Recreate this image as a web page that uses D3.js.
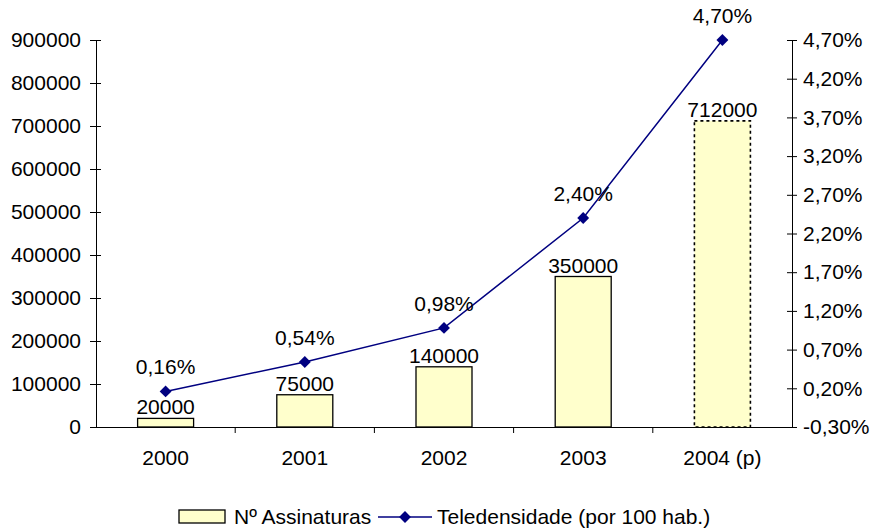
<!DOCTYPE html>
<html lang="pt">
<head>
<meta charset="UTF-8">
<title>Assinaturas e Teledensidade</title>
<style>
    body { margin: 0; background: #fff; }
    svg text { font-family: "Liberation Sans", Arial, sans-serif; font-size: 21px; fill: #000; }
</style>
</head>
<body>
<div id="chart"></div>
<script src="https://cdnjs.cloudflare.com/ajax/libs/d3/7.8.5/d3.min.js"></script>
<script>
    const anos = ["2000", "2001", "2002", "2003", "2004 (p)"];
    const assinaturas = [20000, 75000, 140000, 350000, 712000];
    const teledensidade = [0.16, 0.54, 0.98, 2.40, 4.70];
    const leftTicks = [0, 100000, 200000, 300000, 400000, 500000, 600000, 700000, 800000, 900000];
    const rightTicks = [-0.30, 0.20, 0.70, 1.20, 1.70, 2.20, 2.70, 3.20, 3.70, 4.20, 4.70];

    const width = 874, height = 529;
    const margin = { left: 96, right: 82, top: 40, bottom: 102 };
    const x0 = margin.left, x1 = width - margin.right;
    const y0 = height - margin.bottom, y1 = margin.top;

    const pct = v => v.toFixed(2).replace(".", ",") + "%";

    const svg = d3.select("#chart").append("svg")
        .attr("width", width)
        .attr("height", height);

    const x = d3.scaleBand().domain(anos).range([x0, x1]);
    const yL = d3.scaleLinear().domain([0, 900000]).range([y0, y1]);
    const yR = d3.scaleLinear().domain([-0.30, 4.70]).range([y0, y1]);

    // left axis
    const gL = svg.append("g").attr("transform", `translate(${x0},0)`)
        .call(d3.axisLeft(yL).tickValues(leftTicks).tickFormat(d3.format("d")).tickSize(6).tickPadding(9));
    gL.selectAll(".tick line").attr("x2", -6).attr("x1", 5);

    // right axis
    const gR = svg.append("g").attr("transform", `translate(${x1},0)`)
        .call(d3.axisRight(yR).tickValues(rightTicks).tickFormat(pct).tickSize(5).tickPadding(6));
    gR.selectAll(".tick line").attr("x1", -5);

    // x axis with ticks at category boundaries
    const gX = svg.append("g").attr("transform", `translate(0,${y0})`)
        .call(d3.axisBottom(x).tickSize(0).tickPadding(23));
    gX.selectAll(".tick text").attr("dy", "0.71em");
    svg.append("g").selectAll("line")
        .data(anos.slice(1))
        .join("line")
        .attr("x1", d => x(d)).attr("x2", d => x(d))
        .attr("y1", y0).attr("y2", y0 + 6)
        .attr("stroke", "#000");

    [gL, gR, gX].forEach(g => {
        g.select(".domain").attr("stroke", "#000").attr("stroke-width", 1);
        g.selectAll(".tick line").attr("stroke", "#000");
        g.selectAll(".tick text").style("font-size", "21px").attr("fill", "#000");
        g.attr("font-family", null).attr("font-size", null);
    });
    gL.select(".domain").attr("d", `M0.5,${y1}V${y0}`);
    gR.select(".domain").attr("d", `M0.5,${y1}V${y0}`);
    gX.select(".domain").attr("d", `M${x0},0.5H${x1}`);

    // bars
    const bw = 56;
    svg.append("g").selectAll("rect")
        .data(assinaturas)
        .join("rect")
        .attr("x", (d, i) => x(anos[i]) + x.bandwidth() / 2 - bw / 2)
        .attr("y", d => yL(d))
        .attr("width", bw)
        .attr("height", d => y0 - yL(d))
        .attr("fill", "#FFFFCC")
        .attr("stroke", "#000")
        .attr("stroke-width", (d, i) => i === 4 ? 1.6 : 1.3)
        .attr("stroke-dasharray", (d, i) => i === 4 ? "3,3" : null);

    svg.append("g").selectAll("text")
        .data(assinaturas)
        .join("text")
        .attr("x", (d, i) => x(anos[i]) + x.bandwidth() / 2)
        .attr("y", d => yL(d) - 4)
        .attr("text-anchor", "middle")
        .text(d => d);

    // teledensidade line
    const cx = (d, i) => x(anos[i]) + x.bandwidth() / 2;
    svg.append("path")
        .datum(teledensidade)
        .attr("d", d3.line().x(cx).y(d => yR(d)))
        .attr("fill", "none")
        .attr("stroke", "#000080")
        .attr("stroke-width", 1.5);

    const diamond = d3.symbol().type(d3.symbolDiamond2).size(90);
    svg.append("g").selectAll("path")
        .data(teledensidade)
        .join("path")
        .attr("transform", (d, i) => `translate(${cx(d, i)},${yR(d)})`)
        .attr("d", diamond)
        .attr("fill", "#000080");

    svg.append("g").selectAll("text")
        .data(teledensidade)
        .join("text")
        .attr("x", cx)
        .attr("y", d => yR(d) - 17)
        .attr("text-anchor", "middle")
        .text(pct);

    // legend
    const lg = svg.append("g").attr("transform", "translate(0,517)");
    lg.append("rect").attr("x", 179).attr("y", -7).attr("width", 46).attr("height", 13)
        .attr("fill", "#FFFFCC").attr("stroke", "#000").attr("stroke-width", 1.3);
    lg.append("text").attr("x", 234).attr("y", 7).text("Nº Assinaturas");
    lg.append("line").attr("x1", 378).attr("x2", 432).attr("y1", 0).attr("y2", 0)
        .attr("stroke", "#000080").attr("stroke-width", 1.5);
    lg.append("path").attr("transform", "translate(405,0)").attr("d", diamond).attr("fill", "#000080");
    lg.append("text").attr("x", 437).attr("y", 7).text("Teledensidade (por 100 hab.)");
</script>
</body>
</html>
